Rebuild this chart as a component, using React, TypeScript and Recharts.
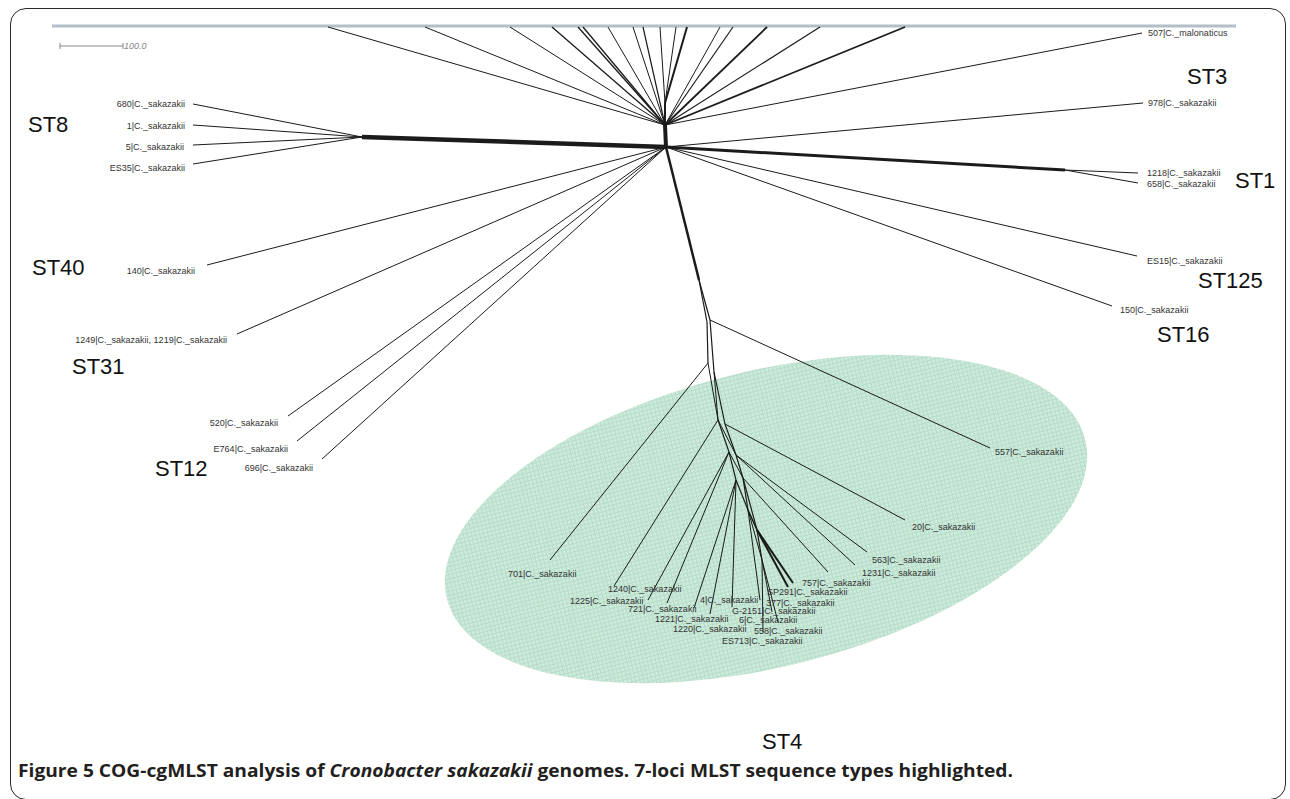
import { ScatterChart, Scatter, XAxis, YAxis } from 'recharts';

// internal nodes of the network
const nodeIds = ['H0', 'H1', 'V', 'N8', 'N1', 'A', 'B', 'B2', 'C', 'C2', 'D', 'D2', 'E', 'E2', 'F', 'F2', 'G', 'Hn', 'I'];
const nodeX = [666, 665, 665, 362, 1065, 699, 710, 707, 708, 714, 718, 725, 729, 736, 736, 743, 748, 757, 762];
const nodeY = [147, 125, 103, 137, 170, 280, 320, 322, 363, 372, 420, 424, 452, 455, 480, 478, 510, 530, 560];

// internal edges: [from, to, weight]
const innerEdges: [string, string, number][] = [
  ['H0', 'H1', 4],
  ['H1', 'V', 2],
  ['H0', 'N8', 4.5],
  ['H0', 'N1', 3],
  ['H0', 'A', 2.5],
  ['A', 'B', 1.2],
  ['A', 'B2', 1.2],
  ['B', 'C2', 1.2],
  ['B2', 'C', 1.2],
  ['C', 'D', 1],
  ['C2', 'D2', 1.2],
  ['C2', 'D', 1],
  ['D', 'E', 1.2],
  ['D2', 'E2', 1.2],
  ['D', 'E2', 1],
  ['E', 'F', 1.2],
  ['E2', 'F2', 1.2],
  ['E', 'F2', 1],
  ['F', 'G', 1.2],
  ['F2', 'G', 1.2],
  ['G', 'Hn', 1.5],
  ['F2', 'Hn', 1.2],
  ['Hn', 'I', 1.2],
  ['G', 'I', 1],
];

// unlabelled tips running off the top of the view
const topTipX = [328, 425, 510, 552, 578, 583, 608, 633, 643, 660, 676, 687, 720, 733, 767, 820, 905];
const topTipParent = ['H1', 'H1', 'H1', 'H1', 'H1', 'H1', 'H1', 'H1', 'H1', 'V', 'V', 'V', 'H1', 'H1', 'H1', 'H1', 'H1'];
const topTipWeight = [1, 1, 1, 1.3, 1.3, 1.3, 1, 1, 1.2, 1, 1, 2, 1, 1.2, 1.8, 1.2, 1.8];

// labelled isolates
const leafNames = [
  '507|C._malonaticus', '978|C._sakazakii', '1218|C._sakazakii', '658|C._sakazakii',
  'ES15|C._sakazakii', '150|C._sakazakii',
  '680|C._sakazakii', '1|C._sakazakii', '5|C._sakazakii', 'ES35|C._sakazakii',
  '140|C._sakazakii', '1249|C._sakazakii, 1219|C._sakazakii',
  '520|C._sakazakii', 'E764|C._sakazakii', '696|C._sakazakii',
  '557|C._sakazakii', '701|C._sakazakii', '1240|C._sakazakii', '20|C._sakazakii',
  '1225|C._sakazakii', '721|C._sakazakii', '563|C._sakazakii', '1231|C._sakazakii',
  '1221|C._sakazakii', '1220|C._sakazakii', 'G-2151|C._sakazakii', '757|C._sakazakii',
  '4|C._sakazakii', 'SP291|C._sakazakii', '377|C._sakazakii',
  '6|C._sakazakii', '558|C._sakazakii', 'ES713|C._sakazakii',
];
const leafX = [1142, 1143, 1138, 1138, 1137, 1112, 193, 193, 193, 193, 207, 237, 288, 297, 322,
  990, 550, 614, 905, 648, 667, 867, 855, 694, 710, 732, 828, 760, 793, 788, 772, 778, 763];
const leafY = [33, 103, 173, 183, 256, 306, 104, 125, 145, 164, 265, 334, 416, 441, 459,
  448, 560, 586, 520, 600, 603, 552, 565, 608, 614, 607, 572, 600, 583, 587, 612, 622, 632];
const leafParent = ['H1', 'H0', 'N1', 'N1', 'H0', 'H0', 'N8', 'N8', 'N8', 'N8', 'H0', 'H0', 'H0', 'H0', 'H0',
  'B', 'C', 'D', 'D2', 'E', 'E', 'E2', 'E2', 'F', 'F', 'F', 'F2', 'G', 'Hn', 'Hn', 'I', 'I', 'I'];
const leafWeight = [1, 1, 1, 1, 1, 1, 1, 1, 1, 1, 1, 1, 1, 1, 1,
  1, 1, 1, 1, 1, 1, 1, 1, 1, 1, 1, 1, 1, 2, 2, 1, 1, 1];

// where each leaf label sits (x, baseline, anchor)
const labelX = [1148, 1148, 1147, 1147, 1147, 1120, 185, 185, 184, 185, 195, 227, 278, 288, 313,
  995, 508, 608, 912, 570, 628, 872, 862, 655, 673, 732, 802, 700, 767, 766, 739, 754, 722];
const labelY = [36, 106, 176, 187, 264, 313, 107, 129, 150, 171, 274, 343, 426, 452, 471,
  455, 577, 592, 530, 604, 612, 563, 576, 622, 632, 614, 586, 603, 595, 606, 623, 634, 644];
const labelAnchor = ['start', 'start', 'start', 'start', 'start', 'start', 'end', 'end', 'end', 'end', 'end', 'end', 'end', 'end', 'end',
  'start', 'start', 'start', 'start', 'start', 'start', 'start', 'start', 'start', 'start', 'start', 'start', 'start', 'start', 'start', 'start', 'start', 'start'];

// sequence type annotations
const stNames = ['ST8', 'ST3', 'ST1', 'ST40', 'ST31', 'ST12', 'ST125', 'ST16', 'ST4'];
const stX = [28, 1187, 1235, 32, 72, 155, 1198, 1157, 762];
const stY = [132, 84, 188, 275, 374, 476, 288, 342, 749];

// ST4 highlight
const ellipseCenter = [{ x: 766, y: 519 }];
const scaleBar = [{ x: 60, y: 46 }, { x: 123, y: 46 }];
const scaleLabel = [{ x: 124, y: 49, text: '100.0' }];
const topBar = [{ x: 52, y: 26 }, { x: 1236, y: 26 }];

const node = (id: string) => {
  const i = nodeIds.indexOf(id);
  return { x: nodeX[i], y: nodeY[i] };
};

const edges = [
  ...innerEdges.map(([a, b, w]) => ({ pts: [node(a), node(b)], w })),
  ...topTipX.map((x, i) => ({ pts: [node(topTipParent[i]), { x, y: 27 }], w: topTipWeight[i] })),
  ...leafNames.map((_, i) => ({ pts: [node(leafParent[i]), { x: leafX[i], y: leafY[i] }], w: leafWeight[i] })),
];

const labelData = leafNames.map((name, i) => ({ x: labelX[i], y: labelY[i], name, anchor: labelAnchor[i] }));
const stData = stNames.map((name, i) => ({ x: stX[i], y: stY[i], name }));

const Blank = () => <g />;

const LeafLabel = (props: any) => (
  <text x={props.cx} y={props.cy} textAnchor={props.payload.anchor} fontSize={9}
    fontFamily="'Liberation Sans', Arial, sans-serif" fill="#333">
    {props.payload.name}
  </text>
);

const StLabel = (props: any) => (
  <text x={props.cx} y={props.cy} fontSize={22} fontFamily="'Liberation Sans', Arial, sans-serif" fill="#111">
    {props.payload.name}
  </text>
);

const Highlight = (props: any) => (
  <g>
    <defs>
      <pattern id="st4grid" width="4" height="4" patternUnits="userSpaceOnUse">
        <rect width="4" height="4" fill="#cdeadb" />
        <path d="M0 0.5H4M0.5 0V4" stroke="#b6ddc9" strokeWidth="1" />
      </pattern>
    </defs>
    <ellipse cx={props.cx} cy={props.cy} rx={329} ry={148} fill="url(#st4grid)"
      transform={`rotate(-14 ${props.cx} ${props.cy})`} />
  </g>
);

const Tick = (props: any) => (
  <line x1={props.cx} x2={props.cx} y1={props.cy - 3} y2={props.cy + 3} stroke="#888" strokeWidth={1} />
);

const ScaleText = (props: any) => (
  <text x={props.cx} y={props.cy} fontSize={9} fontStyle="italic" fill="#888"
    fontFamily="'Liberation Sans', Arial, sans-serif">
    {props.payload.text}
  </text>
);

export default function App() {
  return (
    <div style={{ position: 'absolute', left: 0, top: 0, width: 1290, height: 799, background: '#fff' }}>
      <ScatterChart width={1290} height={799} margin={{ top: 0, right: 0, bottom: 0, left: 0 }}>
        <XAxis type="number" dataKey="x" domain={[0, 1290]} allowDataOverflow hide />
        <YAxis type="number" dataKey="y" domain={[0, 799]} allowDataOverflow reversed hide />
        <Scatter data={ellipseCenter} shape={Highlight} isAnimationActive={false} />
        <Scatter data={topBar} line={{ stroke: '#b3bec8', strokeWidth: 3 }} shape={Blank} isAnimationActive={false} />
        <Scatter data={scaleBar} line={{ stroke: '#888', strokeWidth: 1 }} shape={Tick} isAnimationActive={false} />
        <Scatter data={scaleLabel} shape={ScaleText} isAnimationActive={false} />
        {edges.map((e, i) => (
          <Scatter key={`edge-${i}`} data={e.pts} line={{ stroke: '#1b1b1b', strokeWidth: e.w }}
            shape={Blank} isAnimationActive={false} />
        ))}
        <Scatter data={labelData} shape={LeafLabel} isAnimationActive={false} />
        <Scatter data={stData} shape={StLabel} isAnimationActive={false} />
      </ScatterChart>
      <svg width={1290} height={799} style={{ position: 'absolute', left: 0, top: 0, pointerEvents: 'none' }}>
        <text x={18} y={777} fontFamily="'Open Sans', sans-serif" fontWeight={700} fontSize={17}
          fill="#231f20" textLength={995} lengthAdjust="spacingAndGlyphs">
          Figure 5 COG-cgMLST analysis of <tspan fontStyle="italic">Cronobacter sakazakii</tspan> genomes. 7-loci MLST sequence types highlighted.
        </text>
      </svg>
      <div style={{
        position: 'absolute', left: 10, top: 8, width: 1276, height: 792,
        border: '1.5px solid #2a2a2a', borderRadius: 16, boxSizing: 'border-box', pointerEvents: 'none',
      }} />
    </div>
  );
}
